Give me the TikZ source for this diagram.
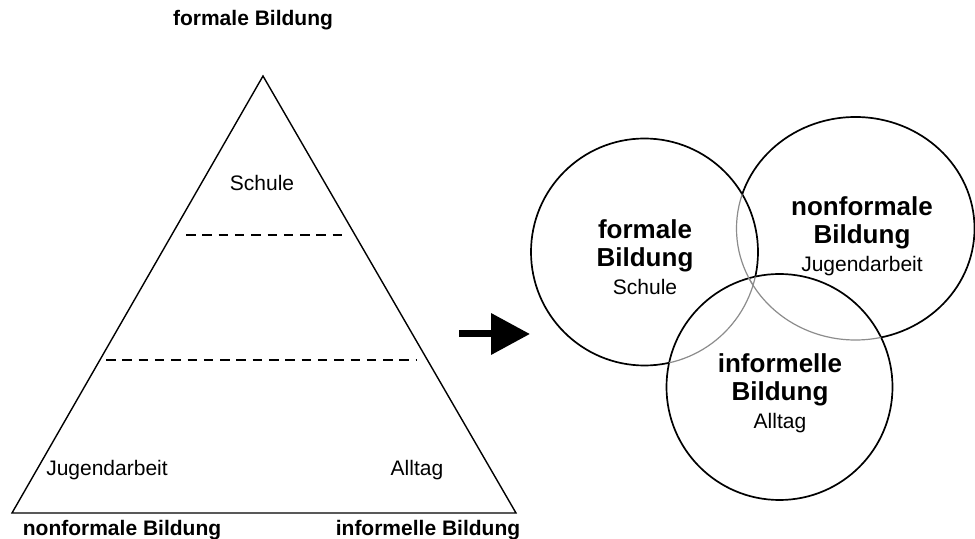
\documentclass[tikz,border=0pt]{standalone}
\usepackage{fontspec}
\setmainfont{Liberation Sans}
\usetikzlibrary{arrows.meta}

\newcommand{\vennhead}[1]{{\fontsize{13}{14}\selectfont\bfseries #1}}

\begin{document}
\begin{tikzpicture}[x=0.5pt, y=-0.5pt, >=Triangle]
    \tikzset{
        caption/.style={inner sep=0pt, font=\fontsize{10.5}{12}\selectfont\bfseries},
        area/.style={inner sep=0pt, font=\fontsize{10.5}{12}\selectfont},
        venntext/.style={inner sep=0pt, align=center, font=\fontsize{10.5}{14}\selectfont},
        outline/.style={draw=black, line width=0.85pt},
        hidden/.style={draw=black!45, line width=0.6pt},
        level/.style={draw, line width=1.3pt, dash pattern=on 4.75pt off 3.4pt},
        line/.style={draw, line width=3.5pt, -{Triangle[length=19.5pt, width=20pt]}}
    }

    \useasboundingbox (0,0) rectangle (975,539);

    % pyramid
    \coordinate (Top) at (263,76);
    \coordinate (BaseL) at (12,513);
    \coordinate (BaseR) at (516,513);
    \draw[line width=0.7pt] (Top) -- (BaseL) -- (BaseR) -- cycle;

    \coordinate (Cut1L) at (186,235);
    \coordinate (Cut1R) at (346,235);
    \coordinate (Cut2L) at (106,360);
    \coordinate (Cut2R) at (417,360);
    \path [level] (Cut1L) -- (Cut1R);
    \path [level] (Cut2L) -- (Cut2R);

    \node (TopTitle) [caption] at (253,20) {formale Bildung};
    \node (LeftTitle) [caption] at (122,530) {nonformale Bildung};
    \node (RightTitle) [caption] at (428,530) {informelle Bildung};

    \node (TopArea) [area] at (262,183) {Schule};
    \node (LeftArea) [area] at (107,470) {Jugendarbeit};
    \node (RightArea) [area] at (417,470) {Alltag};

    % arrow
    \coordinate (ArrowFrom) at (459,334);
    \coordinate (ArrowTo) at (530,334);
    \path [line] (ArrowFrom) -- (ArrowTo);

    % circles
    \coordinate (Fc) at (644.5,252);
    \coordinate (Nc) at (855.5,228.5);
    \coordinate (Ic) at (779.5,387);

    \draw[outline] (Nc) ellipse [x radius=119, y radius=111.5];
    \fill[white] (Fc) circle [radius=113.5];
    \draw[outline] (Fc) circle [radius=113.5];
    \fill[white] (Ic) circle [radius=113];
    \draw[outline] (Ic) circle [radius=113];

    \begin{scope}
        \clip (Fc) circle [radius=113.5];
        \draw[hidden] (Nc) ellipse [x radius=119, y radius=111.5];
    \end{scope}
    \begin{scope}
        \clip (Ic) circle [radius=113];
        \draw[hidden] (Nc) ellipse [x radius=119, y radius=111.5];
        \draw[hidden] (Fc) circle [radius=113.5];
    \end{scope}

    \node (FormalText) [venntext] at (645,257) {\vennhead{formale}\\\vennhead{Bildung}\\Schule};
    \node (NonformalText) [venntext] at (862,236) {\vennhead{nonformale}\\\vennhead{Bildung}\\Jugendarbeit};
    \node (InformalText) [venntext] at (780,393) {\vennhead{informelle}\\\vennhead{Bildung}\\Alltag};

\end{tikzpicture}
\end{document}
